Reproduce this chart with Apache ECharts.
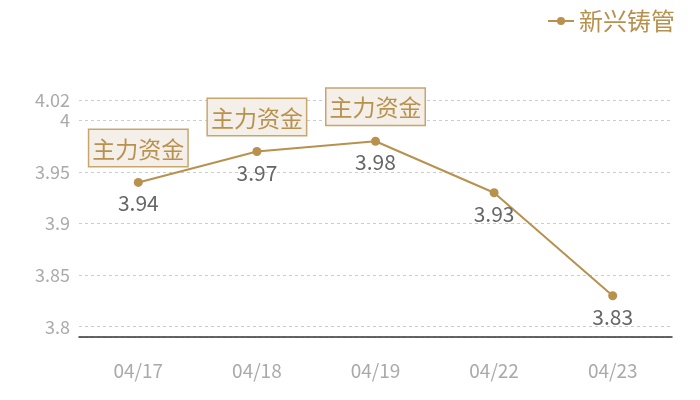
<!DOCTYPE html>
<html>
<head>
<meta charset="utf-8">
<script src="https://cdn.jsdelivr.net/npm/echarts@6/dist/echarts.min.js"></script>
<style>html,body{margin:0;padding:0;background:#fff}#c{width:700px;height:400px}</style>
</head>
<body>
<div id="c"></div>
<script>
const categories = ['04/17', '04/18', '04/19', '04/22', '04/23'];
const seriesName = '新兴铸管';
const values = [3.94, 3.97, 3.98, 3.93, 3.83];
const markIndices = [0, 1, 2];
const markText = '主力资金';

const FONT = '"Noto Sans CJK SC", "Noto Sans", sans-serif';
const GOLD = '#b8914f';

const chart = echarts.init(document.getElementById('c'));
chart.setOption({
  animation: false,
  textStyle: { fontFamily: FONT },
  legend: {
    right: 20, top: 4,
    itemWidth: 26, itemHeight: 10,
    itemGap: 6,
    textStyle: { color: GOLD, fontSize: 24, fontFamily: FONT },
    data: [seriesName]
  },
  grid: { left: 79, right: 28, top: 100, bottom: 63 },
  xAxis: {
    type: 'category',
    data: categories,
    axisLine: { lineStyle: { color: '#333', width: 1.5 } },
    axisTick: { show: false },
    axisLabel: { color: '#aaa', fontSize: 19, margin: 24, fontFamily: FONT }
  },
  yAxis: {
    type: 'value',
    min: 3.79, max: 4.02,
    splitNumber: 5,
    axisLine: { show: false },
    axisTick: { show: false },
    axisLabel: { color: '#aaa', fontSize: 18, margin: 9, showMinLabel: false, fontFamily: FONT },
    splitLine: { lineStyle: { color: '#ccc', type: [3, 3], width: 1 } }
  },
  series: [{
    name: seriesName,
    type: 'line',
    data: values,
    symbol: 'circle',
    symbolSize: 9,
    lineStyle: { color: GOLD, width: 2 },
    itemStyle: { color: GOLD },
    label: { show: true, position: 'bottom', distance: 6, color: '#666', fontSize: 21, fontFamily: FONT },
    markPoint: {
      symbol: 'rect',
      symbolSize: 1,
      itemStyle: { color: 'rgba(0,0,0,0)' },
      label: {
        show: true,
        position: 'top',
        distance: 16,
        formatter: markText,
        color: GOLD,
        fontSize: 23,
        lineHeight: 28,
        fontFamily: FONT,
        backgroundColor: '#f4efe8',
        borderColor: '#c9a56e',
        borderWidth: 1.5,
        padding: [5, 3, 3, 3]
      },
      data: markIndices.map(i => ({ coord: [categories[i], values[i]] }))
    }
  }]
});
</script>
</body>
</html>
